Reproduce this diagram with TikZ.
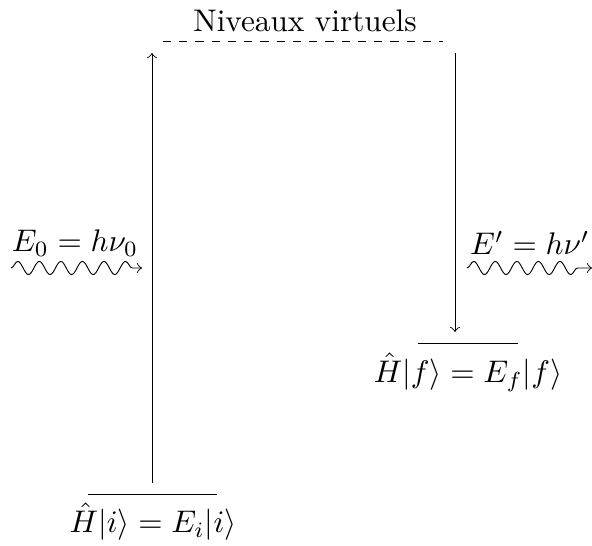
\documentclass[tikz,border=0pt]{standalone}
\usetikzlibrary{decorations.pathmorphing}
\begin{document}
\begin{tikzpicture}[x=0.32pt,y=-0.32pt,line width=0.3pt,
  wave/.style={->,decorate,decoration={snake,amplitude=2.1pt,segment length=6.9pt,post length=1.5pt}},
  lab/.style={inner sep=0pt}]
\useasboundingbox (0,0) rectangle (592,546);
\node[lab] (virt) at (305,21) {Niveaux virtuels};
\coordinate (v1) at (163,41);
\coordinate (v2) at (443,41);
\draw[dash pattern=on 2.6pt off 2.6pt] (v1) -- (v2);
% ground level
\coordinate (i1) at (88,494);
\coordinate (i2) at (217,494);
\draw (i1) -- (i2);
\node[lab] (il) at (153,522) {$\hat{H}|i\rangle = E_i|i\rangle$};
% final level
\coordinate (f1) at (418,343);
\coordinate (f2) at (518,343);
\draw (f1) -- (f2);
\node[lab] (fl) at (468,372) {$\hat{H}|f\rangle = E_f|f\rangle$};
% transitions
\coordinate (ab) at (152,483);
\coordinate (at) at (152,53);
\draw[->] (ab) -- (at);
\coordinate (bt) at (455,53);
\coordinate (bb) at (455,332);
\draw[->] (bt) -- (bb);
% photons
\coordinate (w1) at (11,268);
\coordinate (w2) at (142,268);
\draw[wave] (w1) -- (w2);
\node[lab] (e0) at (75,243) {$E_0 = h\nu_0$};
\coordinate (w3) at (467,268);
\coordinate (w4) at (592,268);
\draw[wave] (w3) -- (w4);
\node[lab] (e1) at (530,243) {$E' = h\nu'$};
\end{tikzpicture}
\end{document}
